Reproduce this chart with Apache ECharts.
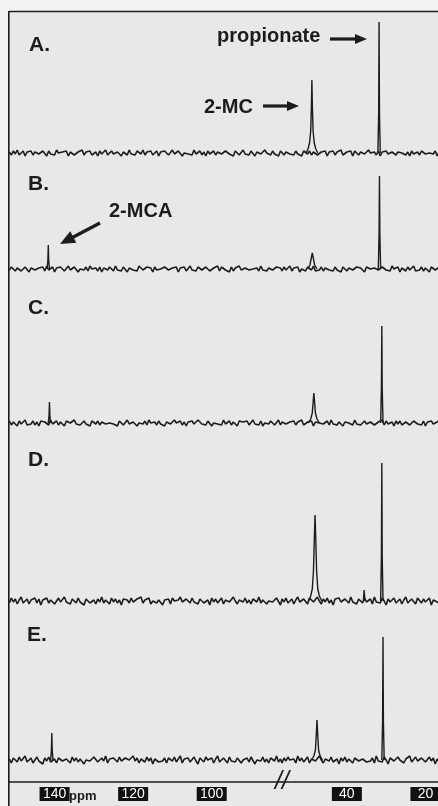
<!DOCTYPE html>
<html><head><meta charset="utf-8">
<script src="https://cdn.jsdelivr.net/npm/echarts@6/dist/echarts.min.js"></script>
<style>html,body{margin:0;padding:0;background:#ececec}#c{width:438px;height:806px}</style>
</head><body><div id="c"></div>
<script>
// ---------------- DATA ----------------
const panelLabels = ['A.', 'B.', 'C.', 'D.', 'E.'];
const tickValues = [140, 120, 100, 40, 20];
const axisUnit = 'ppm';
const axisRange = [16.8, 151.6];          // ppm, shown reversed
const axisBreak = [56.5, 82.1];           // ppm range cut out of the axis ("//")
// sampling grid of the recorded baseline (ppm)
const baselineSegments = [[151.5, 82.5], [56.5, 16.5]];
const baselineStep = 0.5;

// baseline noise (intensity, arbitrary units)
const noiseA = [1,-2,2,-1,3,-2,0,2,-3,1,-1,2,-2,1,3,-1,-2,2,0,-3,2,-1,1,-2,3,0,-2,1,-1,2,-3,1,2,-2,0,1,-1,3,-2,1,-1,2,-2,0,1,-3,2,-1,1,3,-2,0,2,-1,-2,1,2,-3,1,0,-2,3,-1,1,-2,2,0,-1,3,-2,1,-1,2,-2,0,2,-3,1,-1,2,1,-2,0,3,-1,-2,2,1,-3,0,2,-1,1,-2,3,-1,0,2,-2,1,-3,2,-1,0,2,-2,1,3,-1,-2,2,0,-1,1,-3,2,1,-2,0,3,-1,1,-2,2,0,-3,1,2,-1,-2,3,0,1,-2,2,-1,0,-3,2,1,-2,1,3,-1,0,-2,2,-1,1,-3,2,0,-1,2,-2,1,3,-2,0,1,-1,2,-3,1,0,2,-2,1,-1,3,-2,0,1,-1,2,-3,2,0,-2,1,2,-1,-2,3,0,-1,1,-2,2,-3,1,0,2,-1,-2,1,3,-2,1,-1,0,2,-2,1,-3,2,-1,0,1,-2,2,3,-1,-2,0,1,-1,2,-3,1];
const noiseB = [-1,2,0,-2,1,3,-2,-1,2,0,-3,1,2,-1,-2,1,0,2,-2,3,-1,0,2,-3,1,-1,2,1,-2,0,3,-1,-2,2,1,-3,0,1,-1,2,-2,3,0,-1,1,-2,2,-3,1,0,-1,2,1,-2,3,-1,0,-2,2,1,-3,1,2,-1,0,-2,3,1,-1,-2,2,0,1,-3,2,-1,1,0,-2,2,3,-1,-2,1,0,2,-3,1,-1,2,-2,0,3,-1,1,-2,2,0,-1,-3,2,1,-2,0,1,-1,3,-2,2,0,-1,1,-3,2,-2,1,0,3,-1,-2,1,2,-1,-3,0,2,1,-2,3,-1,0,-2,1,2,-1,-3,2,0,1,-2,2,-1,0,3,-2,1,-1,2,-3,0,1,-2,2,1,-1,3,-2,0,-1,2,-2,1,3,-1,0,-2,2,-1,1,-3,2,0,-2,1,3,-1,-2,2,0,1,-1,-3,2,1,0,-2,1,3,-1,-2,2,0,-1,1,-2,3,0,-1,2,-3,1,0,-2,2,-1,1,3,-2,0,-1,2,-2,1,0,-3,2,1,-1,-2,2];
const noiseC = [2,-2,1,0,-3,2,-1,1,3,-2,0,-1,2,-2,1,-3,2,0,1,-1,-2,3,-1,0,2,-2,1,-1,-3,2,1,0,-2,3,-1,1,-2,0,2,-1,1,-3,2,0,-1,2,-2,1,3,-1,-2,0,2,-1,1,-3,2,1,-2,0,3,-1,-2,1,2,-3,0,1,-1,2,-2,3,0,-1,1,-2,2,-1,0,-3,1,2,-1,-2,3,0,-1,2,-2,1,-3,1,0,2,-1,-2,3,1,-1,0,-2,2,1,-3,0,2,-1,1,-2,3,-1,0,2,-2,1,-1,-3,2,0,1,-1,2,-2,0,3,-1,1,-2,2,-3,0,1,-1,2,1,-2,0,3,-2,1,2,-1,-3,1,0,2,-2,1,-1,3,-2,0,1,-1,2,-3,1,2,0,-2,-1,1,2,-2,3,-1,0,-2,1,2,-3,1,-1,0,2,-2,3,-1,1,-2,0,2,-1,-3,1,2,-2,0,1,-1,3,-2,2,-1,0,1,-3,2,-1,2,-2,0,1,3,-2,-1,2,0,-1,1,-2,2,-3,1,0,2,-1,-2,1,3];
const noiseD = [-2,3,-1,2,-3,1,4,-2,0,2,-3,1,-1,3,-2,2,-4,1,0,3,-2,1,2,-3,0,3,-1,-2,4,-1,1,-3,2,0,-2,3,-1,1,-4,2,3,-2,0,1,-3,2,-1,4,-2,1,0,-3,3,-1,2,-2,1,-4,2,0,1,-2,3,-1,-3,2,0,4,-2,1,-1,3,-3,0,2,-2,1,3,-4,1,-1,2,-3,3,0,-2,1,4,-1,-3,2,0,-2,3,-1,1,-3,2,4,-2,0,1,-4,3,-1,2,-2,0,3,-3,1,2,-1,-2,4,0,-3,1,2,-1,3,-2,1,-3,2,0,-1,4,-2,1,3,-3,0,2,-1,-2,3,1,-4,2,-1,3,-2,0,2,-3,1,4,-1,-2,2,0,-3,3,1,-1,-2,4,0,-3,2,-1,3,-2,1,-4,2,0,3,-1,-3,2,1,-2,4,-1,0,-3,2,1,-2,3,-1,0,2,-3,4,-1,1,-2,3,0,-4,2,-1,1,3,-2,0,2,-3,1,4,-2,-1,2,0,-3,3,1,-2,2,-1,0,3,-4,1,2,-1,-2];
const noiseE = [1,-3,2,0,-2,3,-1,1,4,-2,-1,2,-3,0,3,-1,1,-4,2,-1,3,-2,0,1,-3,2,4,-1,-2,1,0,-3,3,-1,2,-2,1,3,-4,0,2,-1,-3,3,1,-2,0,2,-1,4,-3,1,-1,2,0,-2,3,-1,-3,2,1,0,-2,4,-1,2,-3,1,0,-2,3,-1,2,-4,1,3,-2,0,-1,2,-3,2,1,-1,3,-2,0,4,-3,1,-1,2,-2,0,3,-1,-4,2,1,-2,3,0,-1,2,-3,1,4,-2,-1,2,0,-3,3,-1,1,-2,2,4,-3,0,-1,2,-2,3,1,-4,0,2,-1,3,-2,1,-3,2,0,-1,4,-2,1,-3,2,-1,3,0,-2,1,-3,4,-1,2,-2,0,3,-3,1,2,-1,-2,4,0,-3,1,2,-1,3,-2,0,1,-4,2,-1,3,-2,1,0,-3,2,4,-1,-2,1,3,-2,0,-1,2,-3,4,-1,1,-2,3,0,-4,2,1,-1,-2,3,0,2,-3,1,-1,4,-2,0,3,-1,-3,2,1,-2,0,3,-1,2,-4,1,-2];

// resonances: [ppm, intensity]
const mcaPeakB  = [[141.9,0],[141.7,9],[141.6,24],[141.5,9],[141.3,0]];
const mcaPeakC  = [[141.6,0],[141.4,8],[141.3,21],[141.2,8],[141.0,0]];
const mcaPeakE  = [[141.0,0],[140.8,10],[140.7,27],[140.6,10],[140.4,0]];
const mcPeakA   = [[50.4,0],[49.9,4],[49.5,10],[49.2,22],[49.0,50],[48.9,73],[48.8,50],[48.6,22],[48.3,10],[47.9,4],[47.4,0]];
const mcPeakB   = [[50.0,0],[49.4,4],[49.1,10],[48.8,16],[48.5,10],[48.2,4],[47.6,0]];
const mcPeakC   = [[49.8,0],[49.2,4],[48.8,10],[48.6,20],[48.4,30],[48.2,20],[48.0,10],[47.6,4],[47.0,0]];
const mcPeakD   = [[49.8,0],[49.2,5],[48.8,12],[48.5,30],[48.3,60],[48.1,86],[47.9,60],[47.7,30],[47.4,12],[47.0,5],[46.4,0]];
const mcPeakE   = [[49.0,0],[48.4,4],[48.0,10],[47.8,24],[47.6,40],[47.4,24],[47.2,10],[46.8,4],[46.2,0]];
const minorPeakD = [[35.8,0],[35.6,11],[35.4,0]];
const propPeakA = [[32.1,0],[31.9,40],[31.8,131],[31.7,40],[31.5,0]];
const propPeakB = [[32.0,0],[31.8,35],[31.7,93],[31.6,35],[31.4,0]];
const propPeakC = [[31.4,0],[31.2,35],[31.1,97],[31.0,35],[30.8,0]];
const propPeakD = [[31.4,0],[31.2,45],[31.1,138],[31.0,45],[30.8,0]];
const propPeakE = [[31.1,0],[30.9,40],[30.8,123],[30.7,40],[30.5,0]];

const panelNoise = [noiseA, noiseB, noiseC, noiseD, noiseE];
const panelPeaks = [
  [mcPeakA, propPeakA],
  [mcaPeakB, mcPeakB, propPeakB],
  [mcaPeakC, mcPeakC, propPeakC],
  [mcPeakD, minorPeakD, propPeakD],
  [mcaPeakE, mcPeakE, propPeakE]
];

// ---------------- LAYOUT ----------------
const panelLayout = [
  { top: 11,  base: 153, min: -10, label: [29, 45] },
  { top: 163, base: 269, min: -10, label: [28, 184] },
  { top: 279, base: 423, min: -10, label: [28, 308] },
  { top: 433, base: 601, min: -10, label: [28, 460] },
  { top: 611, base: 760, min: -22, label: [27, 635] }
];
const INK = '#1c1c1c';
const FONT = '"Liberation Sans", Arial, Helvetica, sans-serif';

const ppmGrid = [];
baselineSegments.forEach(([a, b]) => {
  for (let k = 0; a - k * baselineStep >= b - 1e-9; k++) ppmGrid.push(+(a - k * baselineStep).toFixed(2));
});

const grids = [], xAxes = [], yAxes = [], series = [];
panelLayout.forEach((L, i) => {
  const max = L.base - L.top;
  grids.push({ left: 9, right: 0, top: L.top, height: max - L.min, containLabel: false, outerBoundsMode: 'none' });
  const last = i === panelLayout.length - 1;
  xAxes.push({
    gridIndex: i, type: 'value', min: axisRange[0], max: axisRange[1], inverse: true,
    breaks: [{ start: axisBreak[0], end: axisBreak[1], gap: 0 }],
    breakArea: { show: false },
    axisLine: { show: last, onZero: false, lineStyle: { color: INK, width: 1.6 } },
    axisTick: { show: false }, splitLine: { show: false },
    axisLabel: last ? {
      show: true, customValues: tickValues, margin: 5, hideOverlap: false,
      formatter: v => '{b|' + v + '}',
      rich: { b: { backgroundColor: '#111', color: '#fff', width: 30, height: 13, lineHeight: 14,
                   align: 'center', fontSize: 14, fontFamily: FONT, padding: [1, 0, 0, 0] } }
    } : { show: false }
  });
  yAxes.push({ gridIndex: i, type: 'value', min: L.min, max: max, show: false });
  const noise = panelNoise[i];
  const base = ppmGrid.slice(0, noise.length).map((p, k) => [p, noise[k]]);
  series.push({ type: 'line', xAxisIndex: i, yAxisIndex: i, data: base, showSymbol: false,
    silent: true, clip: false, lineStyle: { color: INK, width: 1.6 } });
  panelPeaks[i].forEach(pk => series.push({ type: 'line', xAxisIndex: i, yAxisIndex: i, data: pk,
    showSymbol: false, silent: true, clip: false, lineStyle: { color: INK, width: 1.4 } }));
});

function arrow(x1, y1, x2, y2, headLen, headW, w) {
  const dx = x2 - x1, dy = y2 - y1, len = Math.hypot(dx, dy), ux = dx / len, uy = dy / len, nx = -uy, ny = ux;
  const bx = x2 - ux * headLen, by = y2 - uy * headLen;
  return [
    { type: 'line', shape: { x1, y1, x2: bx + ux, y2: by + uy }, style: { stroke: INK, lineWidth: w } },
    { type: 'polygon', shape: { points: [[x2, y2], [bx + nx * headW / 2, by + ny * headW / 2], [bx - nx * headW / 2, by - ny * headW / 2]] },
      style: { fill: INK } }
  ];
}
function txt(s, x, y, size, extra) {
  return Object.assign({ type: 'text', x, y, style: { text: s, fill: INK, font: 'bold ' + size + 'px ' + FONT,
    textAlign: 'left', textVerticalAlign: 'middle' } }, extra || {});
}

const graphic = [
  { type: 'rect', z: -5, shape: { x: 0, y: 0, width: 438, height: 11 }, style: { fill: '#f3f3f3' } },
  { type: 'rect', z: -5, shape: { x: 0, y: 0, width: 8, height: 806 }, style: { fill: '#f3f3f3' } },
  { type: 'line', shape: { x1: 9, y1: 11.5, x2: 438, y2: 11.5 }, style: { stroke: INK, lineWidth: 1.6 } },
  { type: 'line', shape: { x1: 8.8, y1: 11, x2: 8.8, y2: 806 }, style: { stroke: INK, lineWidth: 1.6 } },
  txt('propionate', 217, 36, 20),
  txt('2-MC', 204, 107, 20),
  txt('2-MCA', 109, 211, 20),
  txt(axisUnit, 69, 796, 13),
  { type: 'text', x: 282, y: 782, style: { text: '//', fill: INK, font: 'italic 25px ' + FONT,
    textAlign: 'center', textVerticalAlign: 'middle' } },
  ...arrow(330, 39, 367, 39, 12, 10, 3.2),
  ...arrow(263, 106, 299, 106, 12, 10, 3.2),
  ...arrow(100, 223, 60, 244, 15, 13, 3.4)
];
panelLayout.forEach((L, i) => graphic.push(txt(panelLabels[i], L.label[0], L.label[1], 21)));

const chart = echarts.init(document.getElementById('c'), null, { renderer: 'canvas' });
chart.setOption({
  backgroundColor: '#e8e8e8',
  animation: false,
  grid: grids, xAxis: xAxes, yAxis: yAxes, series, graphic
});
</script></body></html>
